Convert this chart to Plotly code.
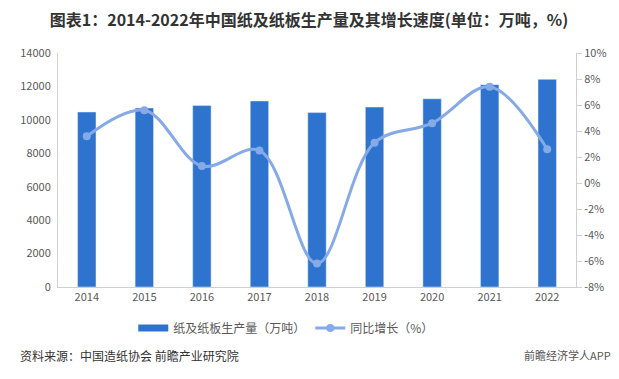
import plotly.graph_objects as go

years = ["2014", "2015", "2016", "2017", "2018", "2019", "2020", "2021", "2022"]
output = [10470, 10710, 10855, 11130, 10435, 10765, 11260, 12105, 12425]
growth = [3.6, 5.6, 1.3, 2.5, -6.2, 3.1, 4.6, 7.4, 2.6]
left_ticks = [0, 2000, 4000, 6000, 8000, 10000, 12000, 14000]
left_labels = ["0", "2000", "4000", "6000", "8000", "10000", "12000", "14000"]
right_ticks = [-8, -6, -4, -2, 0, 2, 4, 6, 8, 10]
right_labels = ["-8%", "-6%", "-4%", "-2%", "0%", "2%", "4%", "6%", "8%", "10%"]

FONT = "Noto Sans CJK SC, Microsoft YaHei, sans-serif"
BAR = "#2e74cf"
LINE = "#86a9e8"

# page body has an 8px default margin; figure is sized to fit the window
W, H = 611, 371
L, R, T, B = 41, 39, 45, 92
PW, PH = W - L - R, H - T - B

fig = go.Figure()
fig.add_trace(go.Bar(x=years, y=output, name="纸及纸板生产量（万吨）",
                     marker_color=BAR, width=0.32, yaxis="y", showlegend=False))
# legend-only entry to get the wide rectangular swatch
fig.add_trace(go.Scatter(x=[None], y=[None], name="纸及纸板生产量（万吨）", mode="lines",
                         line=dict(color=BAR, width=7), yaxis="y"))
fig.add_trace(go.Scatter(x=years, y=growth, name="同比增长（%）", yaxis="y2",
                         mode="lines+markers",
                         line=dict(color=LINE, width=3, shape="spline", smoothing=1.0),
                         marker=dict(color=LINE, size=8)))

fig.update_layout(
    width=W, height=H,
    margin=dict(l=L, r=R, t=T, b=B),
    paper_bgcolor="white", plot_bgcolor="white",
    font=dict(family=FONT, size=11, color="#595959"),
    title=dict(text="<b>图表1：2014-2022年中国纸及纸板生产量及其增长速度(单位：万吨，%)</b>",
               x=(309 - 8) / W, xanchor="center", y=1 - (20 - 8) / H, yanchor="middle",
               font=dict(size=16, color="#333333", family=FONT)),
    xaxis=dict(type="category", range=[-0.5, 8.5], showline=True, linecolor="#d0d0d0",
               linewidth=1, ticks="", tickfont=dict(size=11, color="#595959"), showgrid=False),
    yaxis=dict(range=[0, 14000], tickvals=left_ticks, ticktext=left_labels, showgrid=False,
               showline=True, linecolor="#d0d0d0", zeroline=False, ticks="",
               ticklabelstandoff=4, tickfont=dict(size=11, color="#595959")),
    yaxis2=dict(range=[-8, 10], tickvals=right_ticks, ticktext=right_labels, overlaying="y",
                side="right", showgrid=False, showline=True, linecolor="#d0d0d0",
                zeroline=False, ticks="outside", ticklen=5, tickcolor="#d0d0d0",
                tickfont=dict(size=11, color="#595959")),
    legend=dict(orientation="h", x=(283 - 49) / PW, xanchor="center",
                y=-(328 - 287) / PH, yanchor="middle",
                font=dict(size=12, color="#595959"), bgcolor="rgba(0,0,0,0)"),
    bargap=0.6,
)

fig.add_annotation(text="资料来源：中国造纸协会 前瞻产业研究院", xref="paper", yref="paper",
                   x=-L / PW, xanchor="left", y=-(355 - 287) / PH, yanchor="middle",
                   showarrow=False, font=dict(size=12, color="#333333", family=FONT))
fig.add_annotation(text="前瞻经济学人APP", xref="paper", yref="paper",
                   x=(W - L - 1) / PW, xanchor="right", y=-(355 - 287) / PH, yanchor="middle",
                   showarrow=False, font=dict(size=11, color="#555555", family=FONT))

fig.write_html("out.html")
